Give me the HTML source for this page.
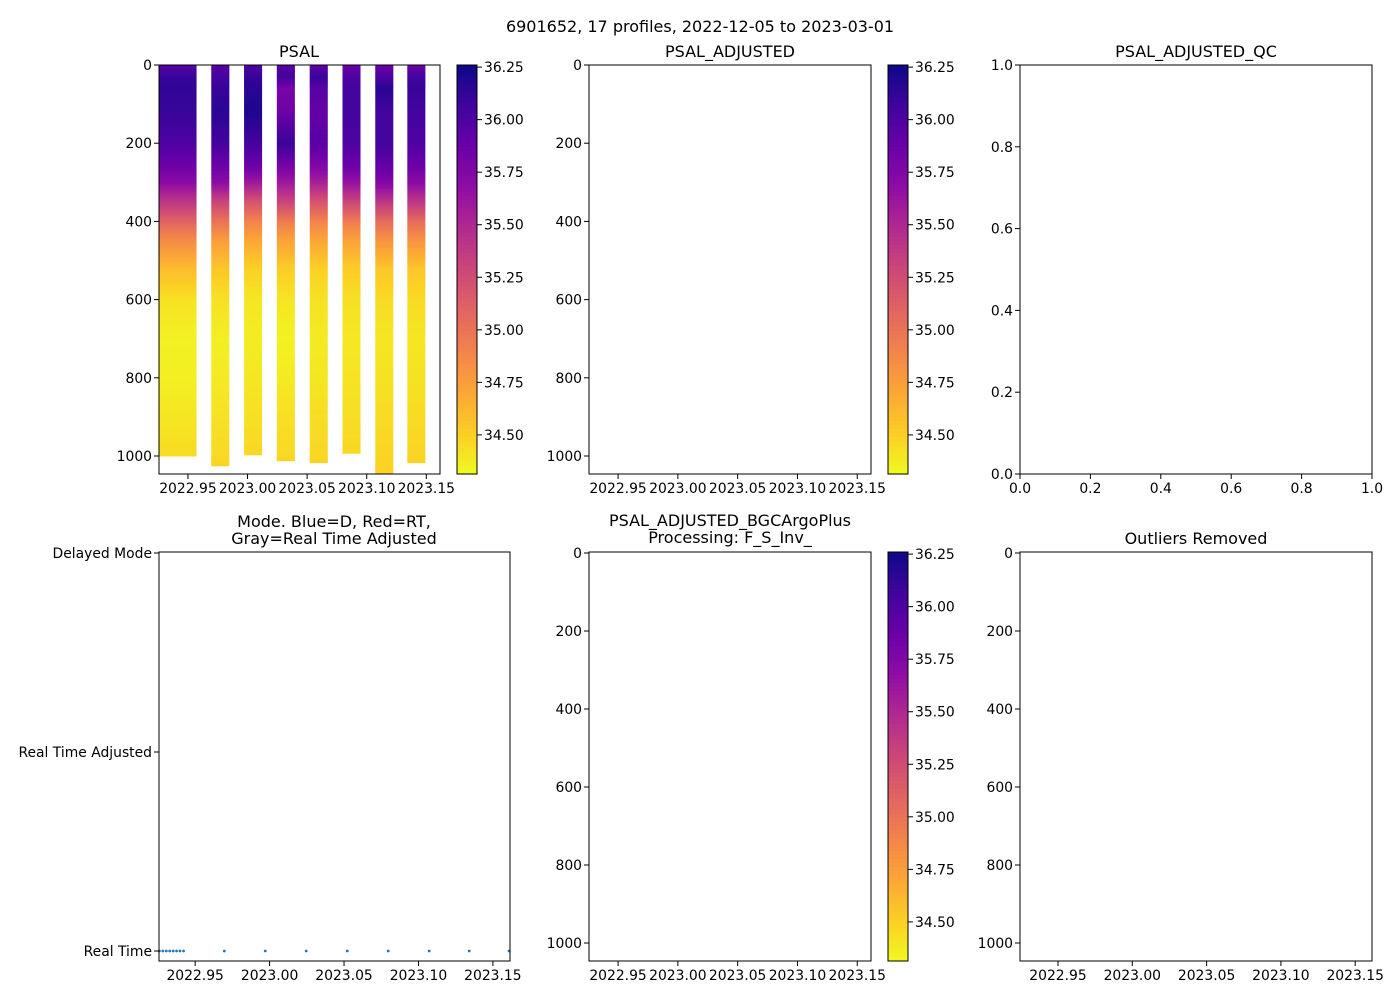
<!DOCTYPE html>
<html><head><meta charset="utf-8"><style>
body{margin:0;background:#fff}
svg{display:block;font-family:"DejaVu Sans","Liberation Sans",sans-serif}
</style></head><body>
<svg id="fig" width="1400" height="1000" viewBox="0 0 1400 1000" xmlns="http://www.w3.org/2000/svg">
<rect x="0" y="0" width="1400" height="1000" fill="#fff"/>
<text x="700" y="32" font-size="16" text-anchor="middle">6901652, 17 profiles, 2022-12-05 to 2023-03-01</text>
</svg>
<script>
// ---- data ----
const profileTimes = [2022.9260,2022.9294,2022.9328,2022.9362,2022.9396,2022.9430,2022.9452,2022.9470,
  2022.9696,2022.9971,2023.0246,2023.0522,2023.0797,2023.1072,2023.1341,2023.1609];
const modeTimes = [2022.9260,2022.9283,2022.9306,2022.9329,2022.9352,2022.9375,2022.9398,2022.9422,
  2022.9696,2022.9971,2023.0246,2023.0522,2023.0797,2023.1072,2023.1341,2023.1609];
const modeValues = [0,0,0,0,0,0,0,0,0,0,0,0,0,0,0,0];
const modeTickLabels = ["Real Time","Real Time Adjusted","Delayed Mode"];
const barStarts = [2022.9260,2022.9696,2022.9971,2023.0246,2023.0522,2023.0797,2023.1072,2023.1341];
const barMaxDepth = [1000,1025,997,1012,1017,993,1060,1017];
const depthLevels = [0,30,60,120,200,260,300,350,400,450,520,600,700,800,900,1000,1060];
const salinity = [
 [35.95,36.10,36.12,36.10,36.00,35.85,35.70,35.40,35.10,34.85,34.60,34.42,34.35,34.36,34.40,34.45,34.47],
 [35.95,36.05,36.10,36.15,36.05,35.85,35.70,35.30,35.00,34.75,34.55,34.42,34.36,34.38,34.42,34.46,34.48],
 [36.00,36.10,36.15,36.20,36.05,35.85,35.60,35.20,34.90,34.70,34.50,34.40,34.37,34.40,34.43,34.47,34.49],
 [35.95,36.05,35.80,35.85,36.10,35.80,35.60,35.30,34.95,34.72,34.52,34.40,34.35,34.38,34.43,34.46,34.48],
 [35.90,36.10,35.95,35.90,35.95,35.75,35.55,35.20,34.90,34.70,34.50,34.42,34.38,34.40,34.44,34.47,34.49],
 [35.85,36.00,36.05,36.05,36.00,35.85,35.65,35.30,34.95,34.72,34.52,34.43,34.39,34.41,34.44,34.47,34.49],
 [35.85,36.00,36.15,36.05,36.05,35.90,35.75,35.40,35.05,34.80,34.55,34.45,34.40,34.42,34.45,34.48,34.50],
 [35.85,36.05,36.10,36.05,36.00,35.85,35.70,35.40,35.05,34.80,34.55,34.45,34.40,34.42,34.45,34.48,34.50]
];
const timeTicks = [2022.95,2023.00,2023.05,2023.10,2023.15];
const timeTickLabels = ["2022.95","2023.00","2023.05","2023.10","2023.15"];
const depthTicks = [0,200,400,600,800,1000];
const cbTicks = [34.50,34.75,35.00,35.25,35.50,35.75,36.00,36.25];
const unitTicks = [0,0.2,0.4,0.6,0.8,1.0];

const NS="http://www.w3.org/2000/svg";
const svg=document.getElementById('fig');
const XMIN=2022.9257, XMAX=2023.1615, DMAX=1046, VMIN=34.314, VMAX=36.26;
const plasma=["#0d0887","#41049d","#6a00a8","#8f0da4","#b12a90","#cc4778","#e16462","#f2844b","#fca636","#fcce25","#f0f921"];
function hex(h){return [1,3,5].map(i=>parseInt(h.substr(i,2),16));}
function cmap(v){let t=(VMAX-v)/(VMAX-VMIN);t=Math.max(0,Math.min(1,t));
 const f=t*10,i=Math.min(9,Math.floor(f)),r=f-i,a=hex(plasma[i]),b=hex(plasma[i+1]);
 return "rgb("+a.map((c,k)=>Math.round(c+(b[k]-c)*r)).join(",")+")";}
function el(tag,attrs,parent){const e=document.createElementNS(NS,tag);for(const k in attrs)e.setAttribute(k,attrs[k]);(parent||svg).appendChild(e);return e;}
function txt(s,x,y,size,anchor,parent){const t=el('text',{x:x,y:y,'font-size':size,'text-anchor':anchor||'middle'},parent);t.textContent=s;return t;}

function makeAxes(name,L,T,R,B){
 const g=el('g',{});
 
 
 return {g,L,T,R,B,
   x:t=>L+(t-XMIN)/(XMAX-XMIN)*(R-L),
   yd:d=>T+d/DMAX*(B-T)};
}
function frame(ax){const r=el('rect',{x:ax.L,y:ax.T,width:ax.R-ax.L,height:ax.B-ax.T,fill:'none',stroke:'#000','stroke-width':1},ax.g);
 
 }
function timeAxis(ax){const g=el('g',{},ax.g);
 
 
 timeTicks.forEach((t,i)=>{const x=ax.x(t);el('line',{x1:x,x2:x,y1:ax.B,y2:ax.B+5,stroke:'#000'},g);txt(timeTickLabels[i],x,ax.B+19,13.9,'middle',g);});}
function depthAxis(ax){const g=el('g',{},ax.g);
 
 
 depthTicks.forEach(d=>{const y=ax.yd(d);el('line',{x1:ax.L-5,x2:ax.L,y1:y,y2:y,stroke:'#000'},g);txt(String(d),ax.L-7,y+5,13.9,'end',g);});}
function colorbar(name,L,T,R,B){const g=el('g',{});
 
 
 const n=100;for(let i=0;i<n;i++){const v=VMAX-(i+0.5)/n*(VMAX-VMIN);el('rect',{x:L,y:T+i*(B-T)/n,width:R-L,height:(B-T)/n+0.6,fill:cmap(v)},g);}
 el('rect',{x:L,y:T,width:R-L,height:B-T,fill:'none',stroke:'#000'},g);
 cbTicks.forEach(v=>{const y=T+(VMAX-v)/(VMAX-VMIN)*(B-T);el('line',{x1:R,x2:R+5,y1:y,y2:y,stroke:'#000'},g);txt(v.toFixed(2),R+7,y+5,13.9,'start',g);});}
function title(lines,cx,y){lines.forEach((s,i)=>{const t=txt(s,cx,y+i*17,16,'middle');
 
 });}

// PSAL
const a1=makeAxes('psal-plot',159,65,440,474);
const clip=el('clipPath',{id:'c1'},svg);el('rect',{x:159,y:65,width:281,height:409},clip);
const mesh=el('g',{'clip-path':'url(#c1)'},a1.g);


barStarts.forEach((t0,bi)=>{
 const x0=a1.x(t0), x1=bi===0?a1.x(2022.9572):a1.x(t0+0.0151);
 for(let k=0;k<depthLevels.length-1;k++){
  const d0=depthLevels[k]; if(d0>=barMaxDepth[bi])break;
  const d1=Math.min(depthLevels[k+1],barMaxDepth[bi]);
  const seg=12;
  for(let s=0;s<seg;s++){
   const da=d0+(d1-d0)*s/seg, db=d0+(d1-d0)*(s+1)/seg;
   const v=salinity[bi][k]+(salinity[bi][k+1]-salinity[bi][k])*(s+0.5)/seg;
   const r=el('rect',{x:x0,y:a1.yd(da),width:x1-x0,height:a1.yd(db)-a1.yd(da)+0.5,fill:cmap(v)},mesh);
  }
 }
});
frame(a1);timeAxis(a1);depthAxis(a1);
colorbar('psal-colorbar',457,65,477,474);
title(['PSAL'],299,57);

// PSAL_ADJUSTED
const a2=makeAxes('psal-adjusted-plot',589,65,871,474);
frame(a2);timeAxis(a2);depthAxis(a2);
colorbar('psal-adjusted-colorbar',888,65,908,474);
title(['PSAL_ADJUSTED'],730,57);

// QC
const a3=makeAxes('psal-adjusted-qc-plot',1020,65,1372,474);
frame(a3);
unitTicks.forEach(v=>{const x=1020+v*352,y=474-v*409;
 el('line',{x1:x,x2:x,y1:474,y2:479,stroke:'#000'},a3.g);txt(v.toFixed(1),x,493,13.9,'middle',a3.g);
 el('line',{x1:1015,x2:1020,y1:y,y2:y,stroke:'#000'},a3.g);txt(v.toFixed(1),1013,y+5,13.9,'end',a3.g);});
title(['PSAL_ADJUSTED_QC'],1196,57);

// Mode
const a4=makeAxes('mode-plot',159,552,510,961);
const ym=v=>951-v*199;
const pts=el('g',{},a4.g);


modeTimes.forEach((t,i)=>{el('circle',{cx:a4.x(t),cy:ym(modeValues[i]),r:1.4,fill:'#1f77b4'},pts);});
frame(a4);timeAxis(a4);
modeTickLabels.forEach((s,i)=>{const y=ym(i);el('line',{x1:154,x2:159,y1:y,y2:y,stroke:'#000'},a4.g);txt(s,152,y+5,13.9,'end',a4.g);});
title(['Mode. Blue=D, Red=RT,','Gray=Real Time Adjusted'],334,527);

// BGC
const a5=makeAxes('psal-bgcargoplus-plot',589,552,871,961);
a5.yd=d=>553+d*0.39;
frame(a5);timeAxis(a5);depthAxis(a5);
colorbar('psal-bgcargoplus-colorbar',888,552,908,961);
title(['PSAL_ADJUSTED_BGCArgoPlus','Processing: F_S_Inv_'],730,526);

// Outliers
const a6=makeAxes('outliers-removed-plot',1020,552,1372,961);
a6.x=t=>1058+(t-2022.95)/0.05*74.3;
a6.yd=d=>553+d*0.39;
frame(a6);timeAxis(a6);depthAxis(a6);
title(['Outliers Removed'],1196,544);
[a1,a2,a3,a4,a5,a6].forEach(a=>svg.appendChild(a.g));
</script>
</body></html>
